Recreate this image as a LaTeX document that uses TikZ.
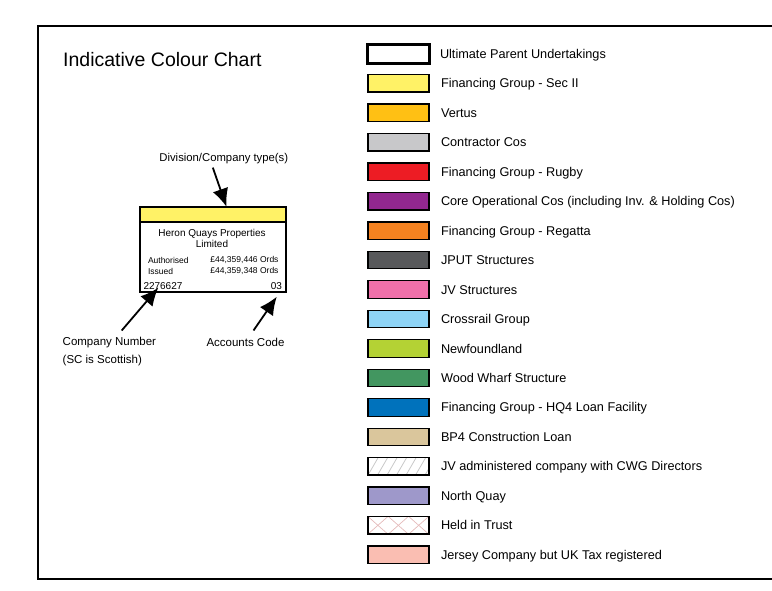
\documentclass[tikz,border=0pt]{standalone}
\usepackage{fontspec}
\setmainfont{Liberation Sans}
\usetikzlibrary{
	positioning,
	arrows.meta,
	calc
}
\definecolor{secii}{RGB}{255,242,102}
\definecolor{vertus}{RGB}{255,192,20}
\definecolor{contractor}{RGB}{200,200,202}
\definecolor{rugby}{RGB}{237,28,36}
\definecolor{coreops}{RGB}{146,39,143}
\definecolor{regatta}{RGB}{245,130,32}
\definecolor{jput}{RGB}{88,89,91}
\definecolor{jvstruct}{RGB}{240,112,170}
\definecolor{crossrail}{RGB}{142,212,246}
\definecolor{newfound}{RGB}{180,210,52}
\definecolor{woodwharf}{RGB}{66,150,96}
\definecolor{hqfour}{RGB}{0,114,188}
\definecolor{bpfour}{RGB}{218,198,156}
\definecolor{northquay}{RGB}{158,152,202}
\definecolor{jersey}{RGB}{250,190,178}
\definecolor{hatchgrey}{RGB}{200,200,200}
\definecolor{trustpink}{RGB}{228,186,186}

\begin{document}
\begin{tikzpicture}[x=1pt,y=-1pt,node distance=29.47pt,
	swatch/.style={draw,line width=1.3pt,minimum width=61pt,minimum height=17.5pt,inner sep=0pt,outer sep=0pt},
	legtext/.style={inner sep=0pt,outer sep=0pt,text height=9.1pt,text depth=0pt,font=\fontsize{12.7}{15}\selectfont},
	cardtext/.style={inner sep=0pt,outer sep=0pt,font=\fontsize{10}{11}\selectfont},
	smalltext/.style={inner sep=0pt,outer sep=0pt,font=\fontsize{8.5}{11}\selectfont},
	labeltext/.style={inner sep=0pt,outer sep=0pt,font=\fontsize{11.5}{17.3}\selectfont},
	bigarrow/.style={line width=1.8pt,-{Latex[length=18pt,width=16pt]}}]
	\useasboundingbox (0,0) rectangle (772,590);

	\draw[line width=1.6pt] (772,26) -- (38,26) -- (38,579) -- (772,579);
	\node[anchor=base west,inner sep=0pt,font=\fontsize{19.5}{22}\selectfont] (title) at (63,66.5) {Indicative Colour Chart};

	\node[draw,line width=1.8pt,minimum width=146pt,minimum height=85pt,inner sep=0pt,outer sep=0pt] (card) at (213.3,249.2) {};
	\node[draw,fill=secii,line width=1.8pt,minimum width=146pt,minimum height=15pt,inner sep=0pt,outer sep=0pt,anchor=north] (band) at (card.north) {};
	\node[cardtext,align=center] (coname) at (212,238) {Heron Quays Properties\\Limited};
	\node[smalltext,align=left,anchor=west] (sharelabels) at (148,265.5) {Authorised\\Issued};
	\node[smalltext,align=right,anchor=east] (sharevalues) at (278.5,265.5) {£44,359,446 Ords\\£44,359,348 Ords};
	\node[cardtext,anchor=west] (conumber) at (143.5,285.7) {2276627};
	\node[cardtext,anchor=east] (acccode) at (282,285.7) {03};

	\node[labeltext,font=\fontsize{11.3}{14}\selectfont] (divtype) at (223.8,158.3) {Division/Company type(s)};
	\node[labeltext,align=left,anchor=north west] (numlabel) at (62.7,337.5) {Company Number\\(SC is Scottish)};
	\node[labeltext,anchor=west] (codelabel) at (206.5,342.7) {Accounts Code};

	\coordinate (divtail) at ($(divtype.south)+(-11,4)$);
	\coordinate (divtip) at ($(band.north west)!0.59!(band.north east)$);
	\coordinate (numtail) at ($(numlabel.north west)+(59,-7)$);
	\coordinate (numtip) at ($(card.south west)+(18,-4)$);
	\coordinate (codetail) at ($(codelabel.north west)+(47,-8)$);
	\coordinate (codetip) at ($(card.south east)+(-9.5,5)$);

	\draw[bigarrow] (divtail) -- (divtip);
	\draw[bigarrow] (numtail) -- (numtip);
	\draw[bigarrow] (codetail) -- (codetip);

	\node[swatch,line width=3pt,minimum width=62pt,minimum height=19pt] (s1) at (398.5,53.8) {};
	\node[legtext,right=10.5pt of s1] (t1) {Ultimate Parent Undertakings};
	\node[swatch,fill=secii,below of=s1] (s2) {};
	\node[legtext,right=12pt of s2] (t2) {Financing Group - Sec II};
	\node[swatch,fill=vertus,below of=s2] (s3) {};
	\node[legtext,right=12pt of s3] (t3) {Vertus};
	\node[swatch,fill=contractor,below of=s3] (s4) {};
	\node[legtext,right=12pt of s4] (t4) {Contractor Cos};
	\node[swatch,fill=rugby,below of=s4] (s5) {};
	\node[legtext,right=12pt of s5] (t5) {Financing Group - Rugby};
	\node[swatch,fill=coreops,below of=s5] (s6) {};
	\node[legtext,right=12pt of s6] (t6) {Core Operational Cos (including Inv. \& Holding Cos)};
	\node[swatch,fill=regatta,below of=s6] (s7) {};
	\node[legtext,right=12pt of s7] (t7) {Financing Group - Regatta};
	\node[swatch,fill=jput,below of=s7] (s8) {};
	\node[legtext,right=12pt of s8] (t8) {JPUT Structures};
	\node[swatch,fill=jvstruct,below of=s8] (s9) {};
	\node[legtext,right=12pt of s9] (t9) {JV Structures};
	\node[swatch,fill=crossrail,below of=s9] (s10) {};
	\node[legtext,right=12pt of s10] (t10) {Crossrail Group};
	\node[swatch,fill=newfound,below of=s10] (s11) {};
	\node[legtext,right=12pt of s11] (t11) {Newfoundland};
	\node[swatch,fill=woodwharf,below of=s11] (s12) {};
	\node[legtext,right=12pt of s12] (t12) {Wood Wharf Structure};
	\node[swatch,fill=hqfour,below of=s12] (s13) {};
	\node[legtext,right=12pt of s13] (t13) {Financing Group - HQ4 Loan Facility};
	\node[swatch,fill=bpfour,below of=s13] (s14) {};
	\node[legtext,right=12pt of s14] (t14) {BP4 Construction Loan};
	\node[swatch,below of=s14,path picture={
		\foreach \k in {-1,...,6}
			\draw[hatchgrey,line width=0.8pt] ($(path picture bounding box.south west)+(\k*9.5,0)$) -- ++(11,-19);
	}] (s15) {};
	\node[legtext,right=12pt of s15] (t15) {JV administered company with CWG Directors};
	\node[swatch,fill=northquay,below of=s15] (s16) {};
	\node[legtext,right=12pt of s16] (t16) {North Quay};
	\node[swatch,below of=s16,path picture={
		\foreach \k in {0,...,2} {
			\draw[trustpink,line width=0.7pt] ($(path picture bounding box.south west)+(\k*20.4,0)$) -- ++(20.4,-18);
			\draw[trustpink,line width=0.7pt] ($(path picture bounding box.north west)+(\k*20.4,0)$) -- ++(20.4,18);
		}
	}] (s17) {};
	\node[legtext,right=12pt of s17] (t17) {Held in Trust};
	\node[swatch,fill=jersey,below of=s17] (s18) {};
	\node[legtext,right=12pt of s18] (t18) {Jersey Company but UK Tax registered};
\end{tikzpicture}
\end{document}
